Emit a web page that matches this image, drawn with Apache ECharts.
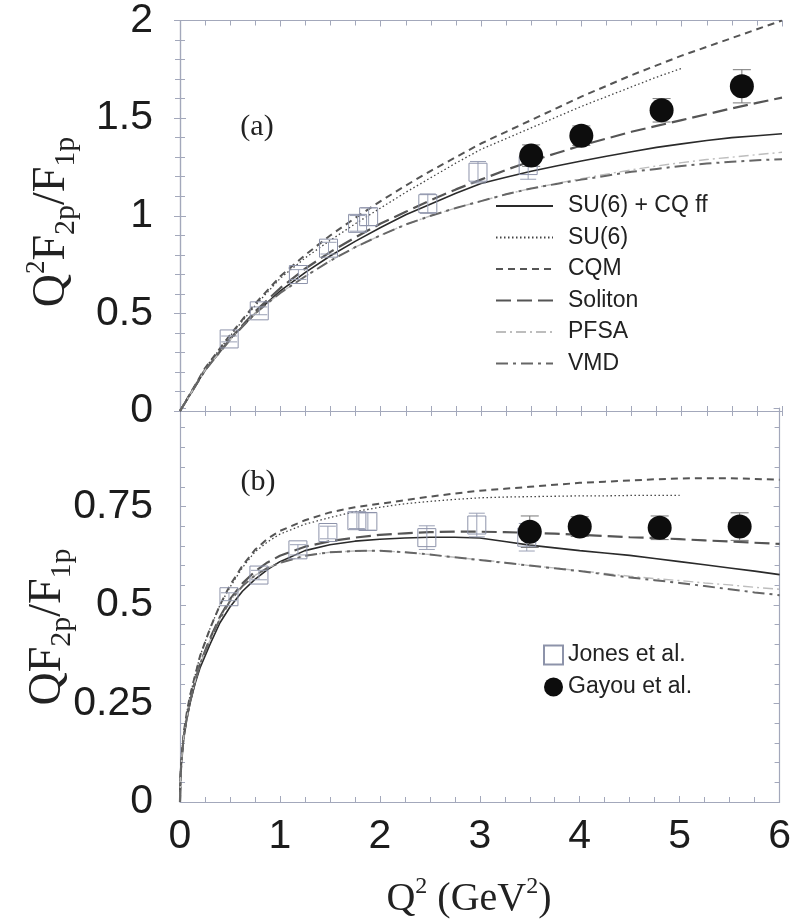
<!DOCTYPE html>
<html><head><meta charset="utf-8">
<script src="https://cdn.jsdelivr.net/npm/echarts@6/dist/echarts.min.js"></script>
<style>html,body{margin:0;padding:0;background:#fff}#c{width:794px;height:922px}</style>
</head><body><div id="c"></div>
<script>
// ---------- data ----------
// panel (a): Q^2 F2p/F1p
const q2Top = [0, 0.25, 0.5, 0.75, 1, 1.25, 1.5, 1.75, 2, 2.25, 2.5, 2.75, 3, 3.25, 3.5, 3.75, 4, 4.25, 4.5, 4.75, 5, 5.25, 5.5, 5.75, 6];
const suCqTop = [0, 0.21, 0.37, 0.50, 0.615, 0.71, 0.795, 0.87, 0.94, 1.005, 1.06, 1.115, 1.165, 1.197, 1.228, 1.255, 1.28, 1.305, 1.328, 1.35, 1.368, 1.385, 1.40, 1.41, 1.42];
const su6Top  = [0, 0.22, 0.385, 0.54, 0.68, 0.785, 0.875, 0.96, 1.04, 1.12, 1.195, 1.27, 1.34, 1.395, 1.45, 1.505, 1.56, 1.61, 1.66, 1.71, 1.755];
const cqmTop  = [0, 0.22, 0.39, 0.55, 0.69, 0.80, 0.90, 0.99, 1.075, 1.155, 1.23, 1.30, 1.37, 1.43, 1.49, 1.55, 1.61, 1.665, 1.72, 1.77, 1.82, 1.865, 1.91, 1.955, 2.0];
const solTop  = [0, 0.21, 0.37, 0.51, 0.63, 0.73, 0.815, 0.89, 0.96, 1.02, 1.08, 1.135, 1.185, 1.235, 1.28, 1.32, 1.36, 1.395, 1.43, 1.46, 1.49, 1.52, 1.55, 1.578, 1.605];
const pfsaTop = [0, 0.21, 0.365, 0.50, 0.605, 0.69, 0.77, 0.84, 0.90, 0.955, 1.00, 1.04, 1.075, 1.11, 1.14, 1.165, 1.19, 1.213, 1.235, 1.255, 1.272, 1.288, 1.30, 1.313, 1.325];
const vmdTop  = [0, 0.21, 0.365, 0.50, 0.605, 0.69, 0.77, 0.84, 0.90, 0.955, 1.00, 1.04, 1.075, 1.11, 1.14, 1.163, 1.185, 1.205, 1.225, 1.24, 1.255, 1.267, 1.277, 1.284, 1.29];

// panel (b): Q F2p/F1p
const q2Bot = [0, 0.005, 0.01, 0.02, 0.04, 0.07, 0.1, 0.15, 0.2, 0.3, 0.4, 0.5, 0.625, 0.75, 0.875, 1, 1.25, 1.5, 1.75, 2, 2.25, 2.5, 2.75, 3, 3.25, 3.5, 3.75, 4, 4.25, 4.5, 4.75, 5, 5.25, 5.5, 5.75, 6];
const suCqBot = [0, 0.06, 0.085, 0.12, 0.17, 0.215, 0.25, 0.30, 0.34, 0.40, 0.455, 0.495, 0.535, 0.565, 0.59, 0.61, 0.638, 0.653, 0.662, 0.667, 0.67, 0.672, 0.672, 0.67, 0.661, 0.652, 0.645, 0.638, 0.632, 0.626, 0.618, 0.61, 0.602, 0.594, 0.586, 0.577];
const su6Bot  = [0, 0.065, 0.09, 0.13, 0.18, 0.23, 0.27, 0.32, 0.37, 0.44, 0.50, 0.545, 0.595, 0.635, 0.66, 0.68, 0.705, 0.722, 0.737, 0.748, 0.757, 0.763, 0.768, 0.772, 0.774, 0.775, 0.776, 0.777, 0.777, 0.778, 0.778, 0.778];
const cqmBot  = [0, 0.065, 0.09, 0.13, 0.18, 0.23, 0.27, 0.32, 0.37, 0.44, 0.50, 0.55, 0.60, 0.64, 0.668, 0.688, 0.715, 0.735, 0.748, 0.757, 0.766, 0.775, 0.783, 0.79, 0.795, 0.80, 0.805, 0.81, 0.813, 0.816, 0.819, 0.821, 0.822, 0.822, 0.82, 0.818];
const solBot  = [0, 0.06, 0.085, 0.12, 0.17, 0.215, 0.255, 0.305, 0.35, 0.415, 0.47, 0.515, 0.555, 0.585, 0.608, 0.625, 0.648, 0.662, 0.671, 0.678, 0.682, 0.685, 0.686, 0.686, 0.685, 0.683, 0.681, 0.678, 0.675, 0.672, 0.67, 0.667, 0.664, 0.661, 0.658, 0.655];
const pfsaBot = [0, 0.06, 0.085, 0.12, 0.17, 0.215, 0.255, 0.305, 0.35, 0.41, 0.465, 0.51, 0.548, 0.575, 0.594, 0.607, 0.625, 0.634, 0.637, 0.638, 0.634, 0.628, 0.621, 0.615, 0.608, 0.60, 0.594, 0.587, 0.58, 0.573, 0.567, 0.562, 0.556, 0.551, 0.545, 0.54];
const vmdBot  = [0, 0.06, 0.085, 0.12, 0.17, 0.215, 0.255, 0.305, 0.35, 0.41, 0.465, 0.51, 0.548, 0.575, 0.594, 0.607, 0.625, 0.634, 0.637, 0.638, 0.634, 0.628, 0.621, 0.614, 0.607, 0.60, 0.593, 0.586, 0.578, 0.57, 0.563, 0.556, 0.548, 0.54, 0.532, 0.525];

const jonesQ2 = [0.49, 0.79, 1.18, 1.48, 1.77, 1.88, 2.47, 2.97, 3.47];
const jonesTop = [0.369, 0.513, 0.699, 0.834, 0.961, 0.995, 1.062, 1.223, 1.257];
const jonesTopErr = [0.015, 0.02, 0.025, 0.03, 0.04, 0.045, 0.05, 0.055, 0.07];
const jonesBot = [0.521, 0.576, 0.640, 0.684, 0.714, 0.712, 0.671, 0.703, 0.672];
const jonesBotErr = [0.01, 0.012, 0.013, 0.016, 0.02, 0.022, 0.03, 0.03, 0.035];

const gayouQ2 = [3.5, 4.0, 4.8, 5.6];
const gayouTop = [1.308, 1.41, 1.54, 1.663];
const gayouTopErr = [0.055, 0.05, 0.06, 0.085];
const gayouBot = [0.686, 0.699, 0.696, 0.699];
const gayouBotErr = [0.04, 0.025, 0.03, 0.035];

const xTickLabels = ['0', '1', '2', '3', '4', '5', '6'];
const modelNames = ['SU(6) + CQ ff', 'SU(6)', 'CQM', 'Soliton', 'PFSA', 'VMD'];
const dataNames = ['Jones et al.', 'Gayou et al.'];

// ---------- styles ----------
const FR = '#a3a8bb';
const NUM_FONT = "'Liberation Sans Narrow', 'Liberation Sans', Arial, sans-serif";
const SERIF = "'Liberation Serif', 'DejaVu Serif', serif";
const SANS = "'Liberation Sans', Arial, sans-serif";
const styles = {
  'SU(6) + CQ ff': {color: '#2a2a2a', width: 1.6, type: 'solid'},
  'SU(6)':         {color: '#444', width: 1.3, type: [1.5, 2.5]},
  'CQM':           {color: '#555', width: 2, type: [7, 5]},
  'Soliton':       {color: '#555', width: 2.2, type: [15, 6]},
  'PFSA':          {color: '#bdbdbd', width: 1.4, type: [10, 4, 2, 4]},
  'VMD':           {color: '#666', width: 2, type: [12, 5, 3, 5]}
};

const zip = (xs, ys) => ys.map((y, i) => [xs[i], y]);

function lineSeries(name, xs, ys, gi) {
  const s = styles[name];
  return {
    type: 'line', name, xAxisIndex: gi === 0 ? 0 : 3, yAxisIndex: gi === 0 ? 0 : 2,
    data: zip(xs, ys), showSymbol: false, symbol: 'none', smooth: false,
    lineStyle: {color: s.color, width: s.width, type: s.type}, itemStyle: {color: s.color},
    z: 2, silent: true, animation: false
  };
}

function errSeries(xs, ys, es, gi, color, cap, z) {
  return {
    type: 'custom', xAxisIndex: gi === 0 ? 0 : 3, yAxisIndex: gi === 0 ? 0 : 2,
    data: xs.map((x, i) => [x, ys[i], es[i]]), z, silent: true, animation: false, clip: false,
    renderItem: (params, api) => {
      const x = api.value(0), y = api.value(1), e = api.value(2);
      const a = api.coord([x, y + e]), b = api.coord([x, y - e]);
      const st = {stroke: color, lineWidth: 1};
      return {type: 'group', children: [
        {type: 'line', shape: {x1: a[0], y1: a[1], x2: b[0], y2: b[1]}, style: st},
        {type: 'line', shape: {x1: a[0] - cap / 2, y1: a[1], x2: a[0] + cap / 2, y2: a[1]}, style: st},
        {type: 'line', shape: {x1: b[0] - cap / 2, y1: b[1], x2: b[0] + cap / 2, y2: b[1]}, style: st}
      ]};
    }
  };
}

function scatterJones(gi) {
  return {type: 'scatter', name: 'Jones et al.', xAxisIndex: gi === 0 ? 0 : 3, yAxisIndex: gi === 0 ? 0 : 2,
    data: zip(jonesQ2, gi === 0 ? jonesTop : jonesBot), symbol: 'rect', symbolSize: 18,
    itemStyle: {color: 'rgba(255,255,255,0)', borderColor: '#8d93aa', borderWidth: 1, opacity: 1}, z: 4, animation: false};
}
function scatterGayou(gi) {
  return {type: 'scatter', name: 'Gayou et al.', xAxisIndex: gi === 0 ? 0 : 3, yAxisIndex: gi === 0 ? 0 : 2,
    data: zip(gayouQ2, gi === 0 ? gayouTop : gayouBot), symbol: 'circle', symbolSize: 24,
    itemStyle: {color: '#0d0d0d', opacity: 1}, z: 5, animation: false};
}

const tickIn = {show: true, inside: true, length: 6, lineStyle: {color: FR, width: 1}};
const minorIn = (n) => ({show: true, splitNumber: n, length: 5, lineStyle: {color: FR, width: 1}});
const lineAx = {show: true, lineStyle: {color: FR, width: 1.2}};
const numLabel = {fontFamily: NUM_FONT, fontSize: 41, color: '#1c1c1c'};

const xBase = {type: 'value', min: 0, max: 6, interval: 1, splitLine: {show: false}, axisLine: lineAx};

const option = {
  animation: false,
  backgroundColor: '#fff',
  grid: [
    {left: 180, top: 17, width: 602, height: 394},
    {left: 180, top: 408, width: 602, height: 394}
  ],
  xAxis: [
    Object.assign({}, xBase, {gridIndex: 0, position: 'bottom', axisLabel: {show: false},
      axisTick: Object.assign({}, tickIn, {length: 5}), minorTick: minorIn(4)}),
    Object.assign({}, xBase, {gridIndex: 0, position: 'bottom', axisLabel: {show: false},
      axisTick: {show: true, inside: false, length: 5, lineStyle: {color: FR}},
      minorTick: {show: true, splitNumber: 4, length: 5, lineStyle: {color: FR}}}),
    Object.assign({}, xBase, {gridIndex: 0, position: 'top', axisLabel: {show: false},
      axisTick: tickIn, minorTick: minorIn(4)}),
    Object.assign({}, xBase, {gridIndex: 1, position: 'bottom',
      axisLabel: Object.assign({}, numLabel, {margin: 14, lineHeight: 41,
        formatter: v => xTickLabels[Math.round(v)] || ''}),
      axisTick: tickIn, minorTick: minorIn(4)})
  ],
  yAxis: [
    {type: 'value', gridIndex: 0, position: 'left', min: 0, max: 2, interval: 0.5, splitLine: {show: false},
      axisLine: lineAx, axisTick: tickIn, minorTick: minorIn(5),
      axisLabel: Object.assign({}, numLabel, {margin: 27})},
    {type: 'value', gridIndex: 0, position: 'right', min: 0, max: 2, interval: 0.5, splitLine: {show: false},
      axisLine: lineAx, axisTick: tickIn, minorTick: minorIn(5), axisLabel: {show: false}},
    {type: 'value', gridIndex: 1, position: 'left', min: 0, max: 1, interval: 0.25, splitLine: {show: false},
      axisLine: lineAx, axisTick: tickIn, minorTick: minorIn(5),
      axisLabel: Object.assign({}, numLabel, {margin: 27, formatter: v => v >= 1 ? '' : String(v)})},
    {type: 'value', gridIndex: 1, position: 'right', min: 0, max: 1, interval: 0.25, splitLine: {show: false},
      axisLine: lineAx, axisTick: tickIn, minorTick: minorIn(5), axisLabel: {show: false}}
  ],
  legend: [
    {data: modelNames, orient: 'vertical', left: 495, top: 194, padding: 0, itemWidth: 57, itemHeight: 14, itemGap: 7.5,
      selectedMode: false, itemStyle: {opacity: 0},
      textStyle: {fontFamily: SANS, fontSize: 23, color: '#222', lineHeight: 24, padding: [0, 0, 0, 10]}},
    {data: dataNames, orient: 'vertical', left: 543, top: 643, padding: 0, itemWidth: 19, itemHeight: 19, itemGap: 8,
      selectedMode: false,
      textStyle: {fontFamily: SANS, fontSize: 23, color: '#222', lineHeight: 24, padding: [0, 0, 0, 0]}}
  ],
  graphic: [
    {type: 'text', x: 257, y: 127, style: {text: '(a)', font: "30px 'Liberation Serif', serif", fill: '#222', align: 'center', verticalAlign: 'middle'}},
    {type: 'text', x: 258, y: 482, style: {text: '(b)', font: "30px 'Liberation Serif', serif", fill: '#222', align: 'center', verticalAlign: 'middle'}},
    {type: 'text', x: 52, y: 222, rotation: Math.PI / 2, style: {
      text: '{m|Q}{sup|2}{m|F}{sub|2p}{m|/F}{sub|1p}', align: 'center', verticalAlign: 'middle', fill: '#222',
      rich: {
        m: {fontFamily: SERIF, fontSize: 46, lineHeight: 58, verticalAlign: 'middle', fill: '#222'},
        sup: {fontFamily: SERIF, fontSize: 27, lineHeight: 30, verticalAlign: 'top', fill: '#222'},
        sub: {fontFamily: SERIF, fontSize: 30, lineHeight: 30, verticalAlign: 'bottom', fill: '#222'}
      }}},
    {type: 'text', x: 48, y: 627, rotation: Math.PI / 2, style: {
      text: '{m|QF}{sub|2p}{m|/F}{sub|1p}', align: 'center', verticalAlign: 'middle', fill: '#222',
      rich: {
        m: {fontFamily: SERIF, fontSize: 46, lineHeight: 58, verticalAlign: 'middle', fill: '#222'},
        sub: {fontFamily: SERIF, fontSize: 30, lineHeight: 30, verticalAlign: 'bottom', fill: '#222'}
      }}},
    {type: 'text', x: 469, y: 899, style: {
      text: '{m|Q}{sup|2}{m| (GeV}{sup|2}{m|)}', align: 'center', verticalAlign: 'middle', fill: '#222',
      rich: {
        m: {fontFamily: SERIF, fontSize: 40, lineHeight: 48, verticalAlign: 'middle', fill: '#222'},
        sup: {fontFamily: SERIF, fontSize: 24, lineHeight: 26, verticalAlign: 'top', fill: '#222'}
      }}}
  ],
  series: [
    lineSeries('SU(6) + CQ ff', q2Top, suCqTop, 0),
    lineSeries('SU(6)', q2Top.slice(0, su6Top.length), su6Top, 0),
    lineSeries('CQM', q2Top, cqmTop, 0),
    lineSeries('Soliton', q2Top, solTop, 0),
    lineSeries('PFSA', q2Top, pfsaTop, 0),
    lineSeries('VMD', q2Top, vmdTop, 0),
    lineSeries('SU(6) + CQ ff', q2Bot, suCqBot, 1),
    lineSeries('SU(6)', q2Bot.slice(0, su6Bot.length), su6Bot, 1),
    lineSeries('CQM', q2Bot, cqmBot, 1),
    lineSeries('Soliton', q2Bot, solBot, 1),
    lineSeries('PFSA', q2Bot, pfsaBot, 1),
    lineSeries('VMD', q2Bot, vmdBot, 1),
    errSeries(jonesQ2, jonesTop, jonesTopErr, 0, '#9aa0b5', 16, 3),
    errSeries(jonesQ2, jonesBot, jonesBotErr, 1, '#9aa0b5', 16, 3),
    errSeries(gayouQ2, gayouTop, gayouTopErr, 0, '#777', 18, 3),
    errSeries(gayouQ2, gayouBot, gayouBotErr, 1, '#777', 18, 3),
    scatterJones(0), scatterJones(1), scatterGayou(0), scatterGayou(1)
  ]
};
const chart = echarts.init(document.getElementById('c'), null, {renderer: 'canvas'});
chart.setOption(option);
</script></body></html>
